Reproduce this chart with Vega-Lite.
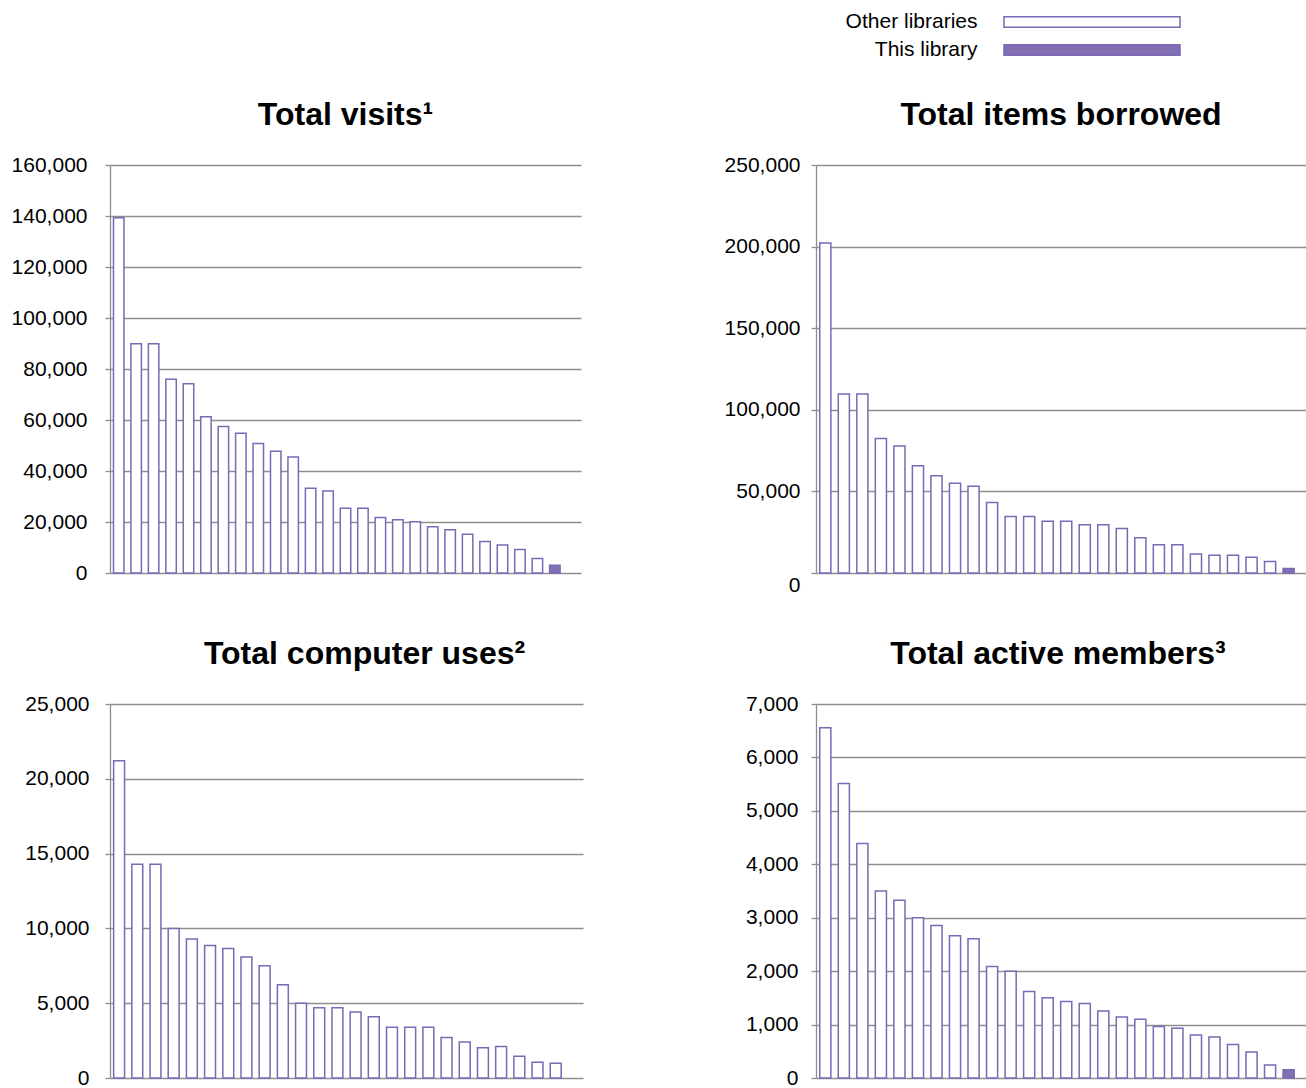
{
  "$schema": "https://vega.github.io/schema/vega-lite/v6.json",
  "padding": {"left": 11, "top": 8, "right": 0, "bottom": 0},
  "autosize": {"type": "pad"},
  "background": "white",
  "config": {
    "font": "Liberation Sans",
    "view": {"stroke": null},
    "axis": {
      "domainColor": "#8e8e8e", "gridColor": "#8e8e8e", "tickColor": "#8e8e8e",
      "domainWidth": 1.3, "gridWidth": 1.3, "tickWidth": 1.3, "tickSize": 5,
      "labelFontSize": 21, "labelColor": "#000000", "labelFont": "Liberation Sans",
      "title": null
    },
    "title": {"fontSize": 32, "fontWeight": "bold", "color": "#000000", "anchor": "middle", "font": "Liberation Sans", "offset": 22}
  },
  "datasets": {
    "legend": [
      {"s": "Other libraries", "a": 0, "b": 1},
      {"s": "This library", "a": 0, "b": 1}
    ],
    "visits": [
      {"r": 1, "s": "Other libraries", "v": 139300},
      {"r": 2, "s": "Other libraries", "v": 89900},
      {"r": 3, "s": "Other libraries", "v": 89900},
      {"r": 4, "s": "Other libraries", "v": 76000},
      {"r": 5, "s": "Other libraries", "v": 74200},
      {"r": 6, "s": "Other libraries", "v": 61300},
      {"r": 7, "s": "Other libraries", "v": 57500},
      {"r": 8, "s": "Other libraries", "v": 54800},
      {"r": 9, "s": "Other libraries", "v": 50800},
      {"r": 10, "s": "Other libraries", "v": 47700},
      {"r": 11, "s": "Other libraries", "v": 45500},
      {"r": 12, "s": "Other libraries", "v": 33200},
      {"r": 13, "s": "Other libraries", "v": 32200},
      {"r": 14, "s": "Other libraries", "v": 25400},
      {"r": 15, "s": "Other libraries", "v": 25400},
      {"r": 16, "s": "Other libraries", "v": 21800},
      {"r": 17, "s": "Other libraries", "v": 20900},
      {"r": 18, "s": "Other libraries", "v": 20100},
      {"r": 19, "s": "Other libraries", "v": 18100},
      {"r": 20, "s": "Other libraries", "v": 17000},
      {"r": 21, "s": "Other libraries", "v": 15200},
      {"r": 22, "s": "Other libraries", "v": 12400},
      {"r": 23, "s": "Other libraries", "v": 11000},
      {"r": 24, "s": "Other libraries", "v": 9200},
      {"r": 25, "s": "Other libraries", "v": 5700},
      {"r": 26, "s": "This library", "v": 3000}
    ],
    "borrowed": [
      {"r": 1, "s": "Other libraries", "v": 202200},
      {"r": 2, "s": "Other libraries", "v": 109700},
      {"r": 3, "s": "Other libraries", "v": 109700},
      {"r": 4, "s": "Other libraries", "v": 82400},
      {"r": 5, "s": "Other libraries", "v": 77800},
      {"r": 6, "s": "Other libraries", "v": 65700},
      {"r": 7, "s": "Other libraries", "v": 59600},
      {"r": 8, "s": "Other libraries", "v": 55000},
      {"r": 9, "s": "Other libraries", "v": 53100},
      {"r": 10, "s": "Other libraries", "v": 43200},
      {"r": 11, "s": "Other libraries", "v": 34600},
      {"r": 12, "s": "Other libraries", "v": 34600},
      {"r": 13, "s": "Other libraries", "v": 31700},
      {"r": 14, "s": "Other libraries", "v": 31700},
      {"r": 15, "s": "Other libraries", "v": 29600},
      {"r": 16, "s": "Other libraries", "v": 29600},
      {"r": 17, "s": "Other libraries", "v": 27200},
      {"r": 18, "s": "Other libraries", "v": 21600},
      {"r": 19, "s": "Other libraries", "v": 17300},
      {"r": 20, "s": "Other libraries", "v": 17300},
      {"r": 21, "s": "Other libraries", "v": 11700},
      {"r": 22, "s": "Other libraries", "v": 10900},
      {"r": 23, "s": "Other libraries", "v": 10900},
      {"r": 24, "s": "Other libraries", "v": 9700},
      {"r": 25, "s": "Other libraries", "v": 7000},
      {"r": 26, "s": "This library", "v": 2700}
    ],
    "computer": [
      {"r": 1, "s": "Other libraries", "v": 21200},
      {"r": 2, "s": "Other libraries", "v": 14290},
      {"r": 3, "s": "Other libraries", "v": 14290},
      {"r": 4, "s": "Other libraries", "v": 10000},
      {"r": 5, "s": "Other libraries", "v": 9290},
      {"r": 6, "s": "Other libraries", "v": 8860},
      {"r": 7, "s": "Other libraries", "v": 8660},
      {"r": 8, "s": "Other libraries", "v": 8080},
      {"r": 9, "s": "Other libraries", "v": 7500},
      {"r": 10, "s": "Other libraries", "v": 6230},
      {"r": 11, "s": "Other libraries", "v": 5000},
      {"r": 12, "s": "Other libraries", "v": 4690},
      {"r": 13, "s": "Other libraries", "v": 4690},
      {"r": 14, "s": "Other libraries", "v": 4420},
      {"r": 15, "s": "Other libraries", "v": 4090},
      {"r": 16, "s": "Other libraries", "v": 3390},
      {"r": 17, "s": "Other libraries", "v": 3390},
      {"r": 18, "s": "Other libraries", "v": 3390},
      {"r": 19, "s": "Other libraries", "v": 2700},
      {"r": 20, "s": "Other libraries", "v": 2410},
      {"r": 21, "s": "Other libraries", "v": 2030},
      {"r": 22, "s": "Other libraries", "v": 2100},
      {"r": 23, "s": "Other libraries", "v": 1450},
      {"r": 24, "s": "Other libraries", "v": 1050},
      {"r": 25, "s": "Other libraries", "v": 980}
    ],
    "members": [
      {"r": 1, "s": "Other libraries", "v": 6556},
      {"r": 2, "s": "Other libraries", "v": 5512},
      {"r": 3, "s": "Other libraries", "v": 4388},
      {"r": 4, "s": "Other libraries", "v": 3500},
      {"r": 5, "s": "Other libraries", "v": 3325},
      {"r": 6, "s": "Other libraries", "v": 3000},
      {"r": 7, "s": "Other libraries", "v": 2856},
      {"r": 8, "s": "Other libraries", "v": 2663},
      {"r": 9, "s": "Other libraries", "v": 2606},
      {"r": 10, "s": "Other libraries", "v": 2087},
      {"r": 11, "s": "Other libraries", "v": 2000},
      {"r": 12, "s": "Other libraries", "v": 1619},
      {"r": 13, "s": "Other libraries", "v": 1500},
      {"r": 14, "s": "Other libraries", "v": 1431},
      {"r": 15, "s": "Other libraries", "v": 1394},
      {"r": 16, "s": "Other libraries", "v": 1256},
      {"r": 17, "s": "Other libraries", "v": 1144},
      {"r": 18, "s": "Other libraries", "v": 1100},
      {"r": 19, "s": "Other libraries", "v": 963},
      {"r": 20, "s": "Other libraries", "v": 931},
      {"r": 21, "s": "Other libraries", "v": 806},
      {"r": 22, "s": "Other libraries", "v": 769},
      {"r": 23, "s": "Other libraries", "v": 625},
      {"r": 24, "s": "Other libraries", "v": 488},
      {"r": 25, "s": "Other libraries", "v": 244},
      {"r": 26, "s": "This library", "v": 156}
    ]
  },
  "vconcat": [
    {
      "hconcat": [
        {
          "width": 874, "height": 56,
          "data": {"values": []},
          "mark": "point",
          "encoding": {}
        },
        {
          "width": 176, "height": 56,
          "data": {"name": "legend"},
          "mark": {"type": "bar", "stroke": "#7B68B6", "strokeWidth": 1.5},
          "encoding": {
            "y": {"field": "s", "type": "nominal", "sort": null,
                  "scale": {"paddingInner": 0.62, "paddingOuter": 0.31},
                  "axis": {"domain": false, "ticks": false, "grid": false, "labelPadding": 27, "labelFontSize": 21}},
            "x": {"field": "a", "type": "quantitative", "scale": {"domain": [0, 1]}, "axis": null},
            "x2": {"field": "b"},
            "fill": {"field": "s", "type": "nominal",
                     "scale": {"domain": ["Other libraries", "This library"], "range": ["#ffffff", "#8370B3"]},
                     "legend": null}
          }
        }
      ],
      "spacing": 20, "bounds": "flush"
    },
    {
      "columns": 2,
      "spacing": {"row": 131, "column": 233},
      "bounds": "flush",
      "concat": [
        {
          "width": 471, "height": 408,
          "title": {"text": "Total visits¹"},
          "data": {"name": "visits"},
          "mark": {"type": "bar", "stroke": "#7B68B6", "strokeWidth": 1.5},
          "encoding": {
            "x": {"field": "r", "type": "ordinal", "sort": null,
                  "scale": {"paddingInner": 0.4, "paddingOuter": 0.7, "align": 0.1429}, "axis": null},
            "y": {"field": "v", "type": "quantitative",
                  "scale": {"domain": [0, 160000], "nice": false},
                  "axis": {"values": [0, 20000, 40000, 60000, 80000, 100000, 120000, 140000, 160000], "format": ",d", "grid": true, "labelPadding": 18}},
            "fill": {"field": "s", "type": "nominal",
                     "scale": {"domain": ["Other libraries", "This library"], "range": ["#ffffff", "#8370B3"]},
                     "legend": null}
          }
        },
        {
          "width": 490, "height": 408,
          "title": {"text": "Total items borrowed"},
          "data": {"name": "borrowed"},
          "mark": {"type": "bar", "stroke": "#7B68B6", "strokeWidth": 1.5},
          "encoding": {
            "x": {"field": "r", "type": "ordinal", "sort": null,
                  "scale": {"paddingInner": 0.4, "paddingOuter": 0.42, "align": 0.24}, "axis": null},
            "y": {"field": "v", "type": "quantitative",
                  "scale": {"domain": [0, 250000], "nice": false},
                  "axis": {"values": [0, 50000, 100000, 150000, 200000, 250000], "format": ",d", "grid": true, "labelPadding": 11,
                           "labelOffset": {"condition": {"test": "datum.value === 0", "value": 12}, "value": 0}}},
            "fill": {"field": "s", "type": "nominal",
                     "scale": {"domain": ["Other libraries", "This library"], "range": ["#ffffff", "#8370B3"]},
                     "legend": null}
          }
        },
        {
          "width": 473, "height": 374,
          "title": {"text": "Total computer uses²", "dx": 18},
          "data": {"name": "computer"},
          "mark": {"type": "bar", "stroke": "#7B68B6", "strokeWidth": 1.5},
          "encoding": {
            "x": {"field": "r", "type": "ordinal", "sort": null,
                  "scale": {"paddingInner": 0.4, "paddingOuter": 0.7, "align": 0.1429}, "axis": null},
            "y": {"field": "v", "type": "quantitative",
                  "scale": {"domain": [0, 25000], "nice": false},
                  "axis": {"values": [0, 5000, 10000, 15000, 20000, 25000], "format": ",d", "grid": true, "labelPadding": 16}},
            "fill": {"field": "s", "type": "nominal",
                     "scale": {"domain": ["Other libraries", "This library"], "range": ["#ffffff", "#8370B3"]},
                     "legend": null}
          }
        },
        {
          "width": 490, "height": 374,
          "title": {"text": "Total active members³", "dx": -3},
          "data": {"name": "members"},
          "mark": {"type": "bar", "stroke": "#7B68B6", "strokeWidth": 1.5},
          "encoding": {
            "x": {"field": "r", "type": "ordinal", "sort": null,
                  "scale": {"paddingInner": 0.4, "paddingOuter": 0.42, "align": 0.24}, "axis": null},
            "y": {"field": "v", "type": "quantitative",
                  "scale": {"domain": [0, 7000], "nice": false},
                  "axis": {"values": [0, 1000, 2000, 3000, 4000, 5000, 6000, 7000], "format": ",d", "grid": true, "labelPadding": 13}},
            "fill": {"field": "s", "type": "nominal",
                     "scale": {"domain": ["Other libraries", "This library"], "range": ["#ffffff", "#8370B3"]},
                     "legend": null}
          }
        }
      ]
    }
  ],
  "spacing": 35
}
